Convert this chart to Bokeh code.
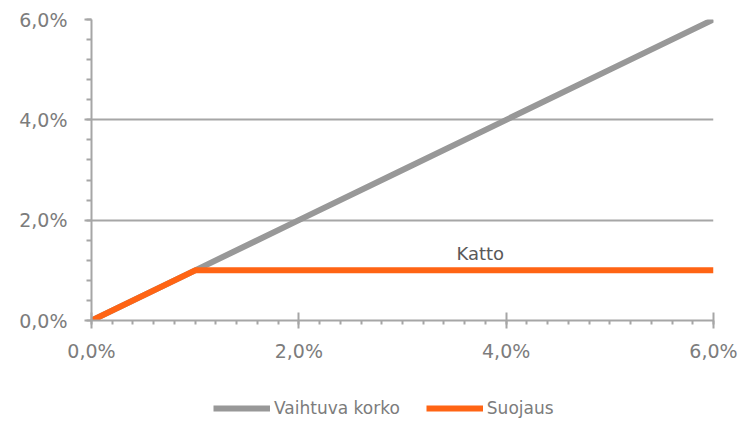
from bokeh.plotting import figure
from bokeh.layouts import column
from bokeh.models import Range1d, FixedTicker, Legend, LegendItem, CustomJSTickFormatter, Label
from bokeh.embed import file_html
from bokeh.resources import INLINE

# data (percent)
rate_x = [0.0, 1.0, 2.0, 3.0, 4.0, 5.0, 6.0]
rate_y = [0.0, 1.0, 2.0, 3.0, 4.0, 5.0, 6.0]
hedge_x = [0.0, 1.0, 6.0]
hedge_y = [0.0, 1.0, 1.0]
major_ticks = [0.0, 2.0, 4.0, 6.0]
series_names = ["Vaihtuva korko", "Suojaus"]
cap_label = "Katto"

GRAY = "#989898"
ORANGE = "#FF6414"
AXIS = "#A6A6A6"
TXT = "#7c7c7c"
FONT = "DejaVu Sans"

p = figure(width=751, height=394, output_backend="svg", toolbar_location=None,
           x_range=Range1d(0, 6), y_range=Range1d(0, 6),
           min_border_left=91, min_border_right=38, min_border_top=19,
           min_border_bottom=74)
p.outline_line_color = None
p.background_fill_color = "white"
p.border_fill_color = "white"

fmt = CustomJSTickFormatter(code="return tick.toFixed(1).replace('.', ',') + '%';")

p.xaxis[0].ticker = FixedTicker(ticks=major_ticks, minor_ticks=[i * 0.2 for i in range(31)])
p.yaxis[0].ticker = FixedTicker(ticks=major_ticks, minor_ticks=[i * 0.4 for i in range(16)])
for ax in (p.xaxis[0], p.yaxis[0]):
    ax.formatter = fmt
    ax.axis_line_color = AXIS
    ax.axis_line_width = 2
    ax.major_tick_line_color = AXIS
    ax.major_tick_line_width = 2
    ax.minor_tick_line_color = AXIS
    ax.minor_tick_line_width = 2
    ax.major_label_text_font = FONT
    ax.major_label_text_font_size = "19px"
    ax.major_label_text_color = TXT

p.xaxis.major_tick_in = 8
p.xaxis.major_tick_out = 8
p.xaxis.minor_tick_in = 0
p.xaxis.minor_tick_out = 4
p.xaxis.major_label_standoff = 11
p.yaxis.major_tick_in = 0
p.yaxis.major_tick_out = 7
p.yaxis.minor_tick_in = 0
p.yaxis.minor_tick_out = 5
p.yaxis.major_label_standoff = 17

p.xgrid.grid_line_color = None
p.ygrid.grid_line_color = AXIS
p.ygrid.grid_line_width = 2
p.ygrid.ticker = FixedTicker(ticks=major_ticks)

p.line(rate_x, rate_y, line_color=GRAY, line_width=6)
p.line(hedge_x, hedge_y, line_color=ORANGE, line_width=6)

p.add_layout(Label(x=3.75, y=1.34, text=cap_label, text_align="center", text_baseline="middle",
                   text_font=FONT, text_font_size="18px", text_color="#595959"))

# legend strip below the chart
lg = figure(width=751, height=28, output_backend="svg", toolbar_location=None,
            x_range=Range1d(100, 101), y_range=Range1d(100, 101),
            x_axis_location=None, y_axis_location=None,
            min_border_left=0, min_border_right=0, min_border_top=0, min_border_bottom=0)
lg.outline_line_color = None
lg.xgrid.visible = False
lg.ygrid.visible = False
l1 = lg.line(rate_x, rate_y, line_color=GRAY, line_width=6)
l2 = lg.line(hedge_x, hedge_y, line_color=ORANGE, line_width=6)

legend = Legend(items=[LegendItem(label=series_names[0], renderers=[l1]),
                       LegendItem(label=series_names[1], renderers=[l2])],
                orientation="horizontal", location=(122, 4),
                label_text_font=FONT, label_text_font_size="17px", label_text_color=TXT,
                glyph_width=57, glyph_height=20, spacing=26, label_standoff=4,
                border_line_color=None, background_fill_alpha=0, padding=0, margin=0)
lg.add_layout(legend, "center")

layout = column(p, lg, spacing=0)
open("out.html", "w").write(file_html(layout, INLINE))
